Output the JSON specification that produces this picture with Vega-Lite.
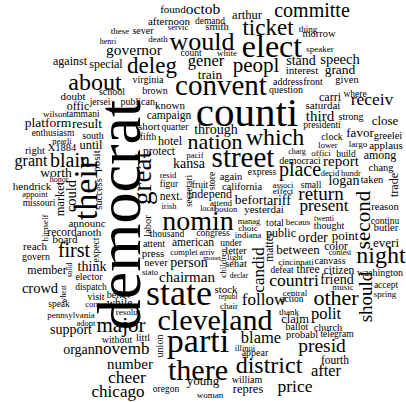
{
  "$schema": "https://vega.github.io/schema/vega-lite/v6.json",
  "width": 406,
  "height": 402,
  "padding": 0,
  "autosize": {"type": "none"},
  "background": "white",
  "config": {"view": {"stroke": null}},
  "data": {"values": [
    {"w":"democrat","x":121,"y":215,"n":62,"dir":"v"},
    {"w":"counti","x":247,"y":114,"n":41,"dir":"h"},
    {"w":"state","x":179,"y":294,"n":36,"dir":"h"},
    {"w":"parti","x":198,"y":342,"n":34,"dir":"h"},
    {"w":"their","x":87,"y":189,"n":34,"dir":"v"},
    {"w":"elect","x":272,"y":47,"n":32,"dir":"h"},
    {"w":"there","x":198,"y":371,"n":30,"dir":"h"},
    {"w":"cleveland","x":215,"y":321,"n":30,"dir":"h"},
    {"w":"convent","x":221,"y":86,"n":29,"dir":"h"},
    {"w":"street","x":243,"y":158,"n":29,"dir":"h"},
    {"w":"nomin","x":198,"y":222,"n":28,"dir":"h"},
    {"w":"great","x":143,"y":178,"n":27,"dir":"v"},
    {"w":"would","x":202,"y":42,"n":26,"dir":"h"},
    {"w":"district","x":269,"y":366,"n":24,"dir":"h"},
    {"w":"about","x":95,"y":83,"n":24,"dir":"h"},
    {"w":"which","x":275,"y":138,"n":24,"dir":"h"},
    {"w":"night","x":381,"y":256,"n":24,"dir":"h"},
    {"w":"deleg","x":152,"y":66,"n":23,"dir":"h"},
    {"w":"ticket","x":268,"y":28,"n":23,"dir":"h"},
    {"w":"nation","x":215,"y":142,"n":22,"dir":"h"},
    {"w":"other","x":336,"y":298,"n":22,"dir":"h"},
    {"w":"peopl","x":256,"y":66,"n":21,"dir":"h"},
    {"w":"major","x":121,"y":326,"n":21,"dir":"h"},
    {"w":"second","x":364,"y":220,"n":21,"dir":"v"},
    {"w":"committe","x":312,"y":11,"n":20,"dir":"h"},
    {"w":"blain","x":70,"y":161,"n":20,"dir":"h"},
    {"w":"place","x":300,"y":170,"n":20,"dir":"h"},
    {"w":"first","x":74,"y":251,"n":20,"dir":"h"},
    {"w":"presid","x":322,"y":346,"n":19.5,"dir":"h"},
    {"w":"return","x":321,"y":194,"n":19,"dir":"h"},
    {"w":"should","x":366,"y":297,"n":19,"dir":"v"},
    {"w":"receiv","x":372,"y":100,"n":17.5,"dir":"h"},
    {"w":"countri","x":294,"y":281,"n":17.5,"dir":"h"},
    {"w":"price","x":295,"y":387,"n":17.5,"dir":"h"},
    {"w":"cheer","x":127,"y":378,"n":17.5,"dir":"h"},
    {"w":"candid","x":259,"y":270,"n":17,"dir":"v"},
    {"w":"present","x":324,"y":206,"n":17,"dir":"h"},
    {"w":"follow","x":264,"y":300,"n":17,"dir":"h"},
    {"w":"chicago","x":118,"y":392,"n":17,"dir":"h"},
    {"w":"novemb","x":122,"y":349,"n":17,"dir":"h"},
    {"w":"gener","x":206,"y":61,"n":16.5,"dir":"h"},
    {"w":"blame","x":261,"y":338,"n":16.5,"dir":"h"},
    {"w":"polit","x":326,"y":314,"n":16.5,"dir":"h"},
    {"w":"after","x":326,"y":371,"n":16.5,"dir":"h"},
    {"w":"grant","x":31,"y":161,"n":16,"dir":"h"},
    {"w":"governor","x":134,"y":50,"n":15.5,"dir":"h"},
    {"w":"octob","x":203,"y":9,"n":15.5,"dir":"h"},
    {"w":"report","x":341,"y":161,"n":15,"dir":"h"},
    {"w":"number","x":130,"y":364,"n":15,"dir":"h"},
    {"w":"chairman","x":187,"y":277,"n":15,"dir":"h"},
    {"w":"third","x":320,"y":116,"n":15,"dir":"h"},
    {"w":"crowd","x":40,"y":289,"n":14.5,"dir":"h"},
    {"w":"could","x":72,"y":196,"n":14.5,"dir":"v"},
    {"w":"speech","x":340,"y":60,"n":14.5,"dir":"h"},
    {"w":"stand","x":301,"y":61,"n":14,"dir":"h"},
    {"w":"person","x":189,"y":263,"n":14,"dir":"h"},
    {"w":"order","x":313,"y":238,"n":14,"dir":"h"},
    {"w":"support","x":71,"y":330,"n":14,"dir":"h"},
    {"w":"organ","x":79,"y":350,"n":14,"dir":"h"},
    {"w":"think","x":92,"y":267,"n":14,"dir":"h"},
    {"w":"kansa","x":189,"y":164,"n":14,"dir":"h"},
    {"w":"through","x":216,"y":130,"n":14,"dir":"h"},
    {"w":"tariff","x":277,"y":201,"n":14,"dir":"h"},
    {"w":"friend","x":337,"y":280,"n":14,"dir":"h"},
    {"w":"worth","x":56,"y":173,"n":13.5,"dir":"h"},
    {"w":"platform","x":48,"y":123,"n":13.5,"dir":"h"},
    {"w":"result","x":87,"y":124,"n":13.5,"dir":"h"},
    {"w":"grand","x":340,"y":70,"n":13.5,"dir":"h"},
    {"w":"train","x":210,"y":75,"n":13.5,"dir":"h"},
    {"w":"logan","x":344,"y":181,"n":14,"dir":"h"},
    {"w":"befor","x":249,"y":200,"n":13.5,"dir":"h"},
    {"w":"young","x":203,"y":381,"n":13,"dir":"h"},
    {"w":"point","x":345,"y":236,"n":13,"dir":"h"},
    {"w":"everi","x":386,"y":243,"n":13,"dir":"h"},
    {"w":"close","x":385,"y":121,"n":13,"dir":"h"},
    {"w":"between","x":298,"y":250,"n":13,"dir":"h"},
    {"w":"favor","x":360,"y":133,"n":13,"dir":"h"},
    {"w":"repres","x":248,"y":389,"n":12.5,"dir":"h"},
    {"w":"claim","x":295,"y":319,"n":12.5,"dir":"h"},
    {"w":"arthur","x":247,"y":15,"n":12.5,"dir":"h"},
    {"w":"market","x":60,"y":199,"n":12.5,"dir":"v"},
    {"w":"until","x":91,"y":145,"n":12.5,"dir":"h"},
    {"w":"trade","x":394,"y":185,"n":12,"dir":"v"},
    {"w":"offic","x":78,"y":106,"n":12,"dir":"h"},
    {"w":"public","x":281,"y":233,"n":12,"dir":"h"},
    {"w":"against","x":70,"y":61,"n":12,"dir":"h"},
    {"w":"special","x":106,"y":64,"n":12,"dir":"h"},
    {"w":"carri","x":330,"y":97,"n":12,"dir":"h"},
    {"w":"hotel","x":170,"y":141,"n":12,"dir":"h"},
    {"w":"among","x":380,"y":155,"n":12,"dir":"h"},
    {"w":"member","x":47,"y":270,"n":12,"dir":"h"},
    {"w":"independ","x":210,"y":194,"n":12,"dir":"h"},
    {"w":"next.","x":171,"y":197,"n":11.5,"dir":"h"},
    {"w":"campaign","x":169,"y":116,"n":11.5,"dir":"h"},
    {"w":"protect","x":159,"y":152,"n":11.5,"dir":"h"},
    {"w":"american","x":193,"y":243,"n":11.5,"dir":"h"},
    {"w":"color","x":336,"y":247,"n":11.5,"dir":"h"},
    {"w":"three","x":308,"y":270,"n":11.5,"dir":"h"},
    {"w":"citizen","x":339,"y":271,"n":11.5,"dir":"h"},
    {"w":"fourth","x":335,"y":361,"n":11.5,"dir":"h"},
    {"w":"record","x":62,"y":233,"n":11.5,"dir":"h"},
    {"w":"matter","x":270,"y":247,"n":11.5,"dir":"v"},
    {"w":"while.","x":121,"y":304,"n":11.5,"dir":"h"},
    {"w":"interest","x":302,"y":71,"n":11,"dir":"h"},
    {"w":"announc","x":87,"y":224,"n":11,"dir":"h"},
    {"w":"anoth","x":89,"y":233,"n":11,"dir":"h"},
    {"w":"board","x":65,"y":240,"n":11,"dir":"h"},
    {"w":"reach","x":35,"y":247,"n":11,"dir":"h"},
    {"w":"hendrick","x":32,"y":187,"n":11,"dir":"h"},
    {"w":"doubt","x":73,"y":97,"n":11,"dir":"h"},
    {"w":"known","x":170,"y":106,"n":11,"dir":"h"},
    {"w":"short","x":149,"y":127,"n":11,"dir":"h"},
    {"w":"saturdai","x":323,"y":106,"n":11,"dir":"h"},
    {"w":"press","x":153,"y":254,"n":11,"dir":"h"},
    {"w":"posit","x":97,"y":161,"n":11,"dir":"v"},
    {"w":"applaus","x":386,"y":146,"n":11,"dir":"h"},
    {"w":"stock","x":226,"y":290,"n":11,"dir":"h"},
    {"w":"yesterdai","x":264,"y":210,"n":11,"dir":"h"},
    {"w":"found","x":173,"y":10,"n":11,"dir":"h"},
    {"w":"afternoon","x":169,"y":22,"n":11,"dir":"h"},
    {"w":"smith","x":217,"y":27,"n":10.5,"dir":"h"},
    {"w":"X1884","x":62,"y":148,"n":10.5,"dir":"h"},
    {"w":"right","x":35,"y":151,"n":10.5,"dir":"h"},
    {"w":"greelei","x":388,"y":136,"n":10.5,"dir":"h"},
    {"w":"chang","x":381,"y":168,"n":10.5,"dir":"h"},
    {"w":"taken","x":372,"y":180,"n":10.5,"dir":"h"},
    {"w":"california","x":242,"y":187,"n":10.5,"dir":"h"},
    {"w":"again","x":231,"y":177,"n":10.5,"dir":"h"},
    {"w":"letter","x":236,"y":251,"n":10.5,"dir":"h"},
    {"w":"senat","x":236,"y":264,"n":10.5,"dir":"h"},
    {"w":"reason","x":385,"y":207,"n":10.5,"dir":"h"},
    {"w":"butler","x":386,"y":228,"n":10.5,"dir":"h"},
    {"w":"church","x":328,"y":328,"n":10.5,"dir":"h"},
    {"w":"probabl","x":302,"y":335,"n":10.5,"dir":"h"},
    {"w":"labor","x":148,"y":226,"n":10.5,"dir":"v"},
    {"w":"success","x":99,"y":194,"n":10.5,"dir":"v"},
    {"w":"morrow","x":319,"y":34,"n":10.5,"dir":"h"},
    {"w":"sever","x":143,"y":31,"n":10,"dir":"h"},
    {"w":"never","x":156,"y":263,"n":10.5,"dir":"h"},
    {"w":"given","x":347,"y":80,"n":10.5,"dir":"h"},
    {"w":"front","x":313,"y":82,"n":10,"dir":"h"},
    {"w":"virginia","x":148,"y":80,"n":10,"dir":"h"},
    {"w":"brown","x":155,"y":91,"n":10,"dir":"h"},
    {"w":"publican,","x":139,"y":102,"n":10,"dir":"h"},
    {"w":"south","x":93,"y":136,"n":10,"dir":"h"},
    {"w":"school","x":112,"y":92,"n":10,"dir":"h"},
    {"w":"address","x":288,"y":82,"n":10,"dir":"h"},
    {"w":"question","x":286,"y":90,"n":10,"dir":"h"},
    {"w":"canvass","x":330,"y":261,"n":10,"dir":"h"},
    {"w":"washington","x":380,"y":273,"n":10,"dir":"h"},
    {"w":"strong","x":351,"y":117,"n":10,"dir":"h"},
    {"w":"democraci","x":300,"y":161,"n":10,"dir":"h"},
    {"w":"total","x":275,"y":223,"n":10,"dir":"h"},
    {"w":"govern","x":36,"y":257,"n":10,"dir":"h"},
    {"w":"elector","x":89,"y":277,"n":10,"dir":"h"},
    {"w":"believ","x":119,"y":295,"n":10,"dir":"h"},
    {"w":"visit","x":96,"y":297,"n":10,"dir":"h"},
    {"w":"clock","x":332,"y":137,"n":10,"dir":"h"},
    {"w":"attent","x":154,"y":244,"n":10,"dir":"h"},
    {"w":"ballot","x":297,"y":327,"n":10,"dir":"h"},
    {"w":"union","x":160,"y":346,"n":10,"dir":"v"},
    {"w":"littl","x":143,"y":338,"n":10,"dir":"h"},
    {"w":"without","x":117,"y":340,"n":10,"dir":"h"},
    {"w":"william","x":247,"y":380,"n":10,"dir":"h"},
    {"w":"appear","x":255,"y":353,"n":10,"dir":"h"},
    {"w":"thought","x":329,"y":226,"n":10,"dir":"h"},
    {"w":"oregon","x":166,"y":389,"n":9.5,"dir":"h"},
    {"w":"demand","x":210,"y":21,"n":9.5,"dir":"h"},
    {"w":"speak","x":59,"y":304,"n":9.5,"dir":"h"},
    {"w":"dispatch","x":91,"y":287,"n":9.5,"dir":"h"},
    {"w":"enthusiasm","x":53,"y":133,"n":9.5,"dir":"h"},
    {"w":"under","x":231,"y":243,"n":9.5,"dir":"h"},
    {"w":"expect","x":96,"y":250,"n":9.5,"dir":"v"},
    {"w":"build","x":346,"y":154,"n":9.5,"dir":"h"},
    {"w":"presidenti","x":322,"y":125,"n":9.5,"dir":"h"},
    {"w":"count","x":191,"y":53,"n":9.5,"dir":"h"},
    {"w":"secretari","x":189,"y":191,"n":9.5,"dir":"v"},
    {"w":"defeat","x":282,"y":270,"n":9.5,"dir":"h"},
    {"w":"accept","x":386,"y":285,"n":9.5,"dir":"h"},
    {"w":"action","x":292,"y":299,"n":9.5,"dir":"h"},
    {"w":"telegram","x":337,"y":334,"n":9.5,"dir":"h"},
    {"w":"congress","x":213,"y":233,"n":9.5,"dir":"h"},
    {"w":"tammani","x":83,"y":114,"n":9.5,"dir":"h"},
    {"w":"where","x":355,"y":94,"n":9.5,"dir":"h"},
    {"w":"express","x":262,"y":172,"n":9.5,"dir":"h"},
    {"w":"thousand","x":167,"y":234,"n":9.5,"dir":"h"},
    {"w":"missouri","x":39,"y":203,"n":9.5,"dir":"h"},
    {"w":"continu","x":385,"y":221,"n":9.5,"dir":"h"},
    {"w":"these","x":120,"y":31,"n":9,"dir":"h"},
    {"w":"store","x":212,"y":181,"n":9.5,"dir":"v"},
    {"w":"fifth","x":148,"y":137,"n":9.5,"dir":"h"},
    {"w":"figur","x":169,"y":184,"n":9.5,"dir":"h"},
    {"w":"fruit","x":200,"y":185,"n":9.5,"dir":"h"},
    {"w":"jersei","x":100,"y":102,"n":9.5,"dir":"h"},
    {"w":"quarter","x":175,"y":127,"n":9.5,"dir":"h"},
    {"w":"small","x":311,"y":185,"n":9.5,"dir":"h"},
    {"w":"effect","x":283,"y":191,"n":9,"dir":"h"},
    {"w":"offici","x":321,"y":153,"n":9,"dir":"h"},
    {"w":"central","x":295,"y":293,"n":9,"dir":"h"},
    {"w":"spring","x":385,"y":294,"n":9,"dir":"h"},
    {"w":"resolut","x":128,"y":312,"n":9,"dir":"h"},
    {"w":"pennsylvania","x":71,"y":315,"n":9,"dir":"h"},
    {"w":"choic","x":248,"y":228,"n":9,"dir":"h"},
    {"w":"indiana","x":248,"y":235,"n":9,"dir":"h"},
    {"w":"children","x":223,"y":263,"n":9,"dir":"v"},
    {"w":"largo","x":358,"y":144,"n":9,"dir":"h"},
    {"w":"thing","x":308,"y":29,"n":9,"dir":"h"},
    {"w":"death","x":158,"y":39,"n":9,"dir":"h"},
    {"w":"wilson","x":55,"y":114,"n":9,"dir":"h"},
    {"w":"white","x":227,"y":53,"n":9,"dir":"h"},
    {"w":"thank","x":289,"y":312,"n":9,"dir":"h"},
    {"w":"himself","x":45,"y":228,"n":9,"dir":"v"},
    {"w":"attend","x":221,"y":203,"n":9,"dir":"h"},
    {"w":"chair","x":229,"y":306,"n":9,"dir":"h"},
    {"w":"music","x":343,"y":287,"n":9,"dir":"h"},
    {"w":"cincinnati","x":296,"y":262,"n":9,"dir":"h"},
    {"w":"becaus","x":298,"y":222,"n":9,"dir":"h"},
    {"w":"speaker","x":320,"y":49,"n":9,"dir":"h"},
    {"w":"woman","x":210,"y":395,"n":9,"dir":"h"},
    {"w":"complet","x":184,"y":252,"n":8.5,"dir":"h"},
    {"w":"appoint","x":35,"y":194,"n":8.5,"dir":"h"},
    {"w":"light","x":235,"y":257,"n":8.5,"dir":"h"},
    {"w":"corner","x":96,"y":304,"n":8.5,"dir":"h"},
    {"w":"boston","x":226,"y":209,"n":8.5,"dir":"h"},
    {"w":"adopt","x":86,"y":323,"n":8.5,"dir":"h"},
    {"w":"stato","x":150,"y":272,"n":8.5,"dir":"h"},
    {"w":"resid","x":168,"y":175,"n":8.5,"dir":"h"},
    {"w":"irish","x":169,"y":206,"n":8.5,"dir":"h"},
    {"w":"servic","x":178,"y":27,"n":8.5,"dir":"h"},
    {"w":"illinoi","x":245,"y":348,"n":8.5,"dir":"h"},
    {"w":"lower","x":328,"y":145,"n":8.5,"dir":"h"},
    {"w":"nearli","x":62,"y":141,"n":8.5,"dir":"h"},
    {"w":"manag","x":249,"y":221,"n":8.5,"dir":"h"},
    {"w":"associ","x":283,"y":185,"n":8.5,"dir":"h"},
    {"w":"decid","x":330,"y":173,"n":8.5,"dir":"h"},
    {"w":"hundr","x":351,"y":173,"n":8.5,"dir":"h"},
    {"w":"pacif","x":195,"y":155,"n":8.5,"dir":"h"},
    {"w":"henri","x":108,"y":42,"n":8,"dir":"h"},
    {"w":"twenti","x":324,"y":219,"n":8,"dir":"h"},
    {"w":"arriv","x":207,"y":253,"n":8,"dir":"h"},
    {"w":"contest","x":340,"y":253,"n":8,"dir":"h"},
    {"w":"honor","x":59,"y":180,"n":8,"dir":"h"},
    {"w":"charg","x":297,"y":152,"n":8,"dir":"h"},
    {"w":"local","x":208,"y":209,"n":8,"dir":"h"},
    {"w":"wheat","x":64,"y":294,"n":7.5,"dir":"v"},
    {"w":"solid","x":70,"y":270,"n":7.5,"dir":"v"},
    {"w":"declar","x":239,"y":276,"n":7.5,"dir":"h"},
    {"w":"republ","x":228,"y":297,"n":7.5,"dir":"h"},
    {"w":"monei","x":212,"y":258,"n":7,"dir":"h"}
  ]},
  "mark": {"type": "text", "font": "Liberation Serif", "align": "center", "baseline": "middle", "color": "#000000"},
  "encoding": {
    "x": {"field": "x", "type": "quantitative", "scale": {"domain": [0, 406], "nice": false, "zero": false}, "axis": null},
    "y": {"field": "y", "type": "quantitative", "scale": {"domain": [0, 402], "nice": false, "zero": false, "reverse": true}, "axis": null},
    "size": {"field": "n", "type": "quantitative", "scale": {"domain": [0, 100], "range": [0, 100]}, "legend": null},
    "angle": {"condition": {"test": "datum.dir === 'v'", "value": 270}, "value": 0},
    "text": {"field": "w", "type": "nominal"}
  }
}
